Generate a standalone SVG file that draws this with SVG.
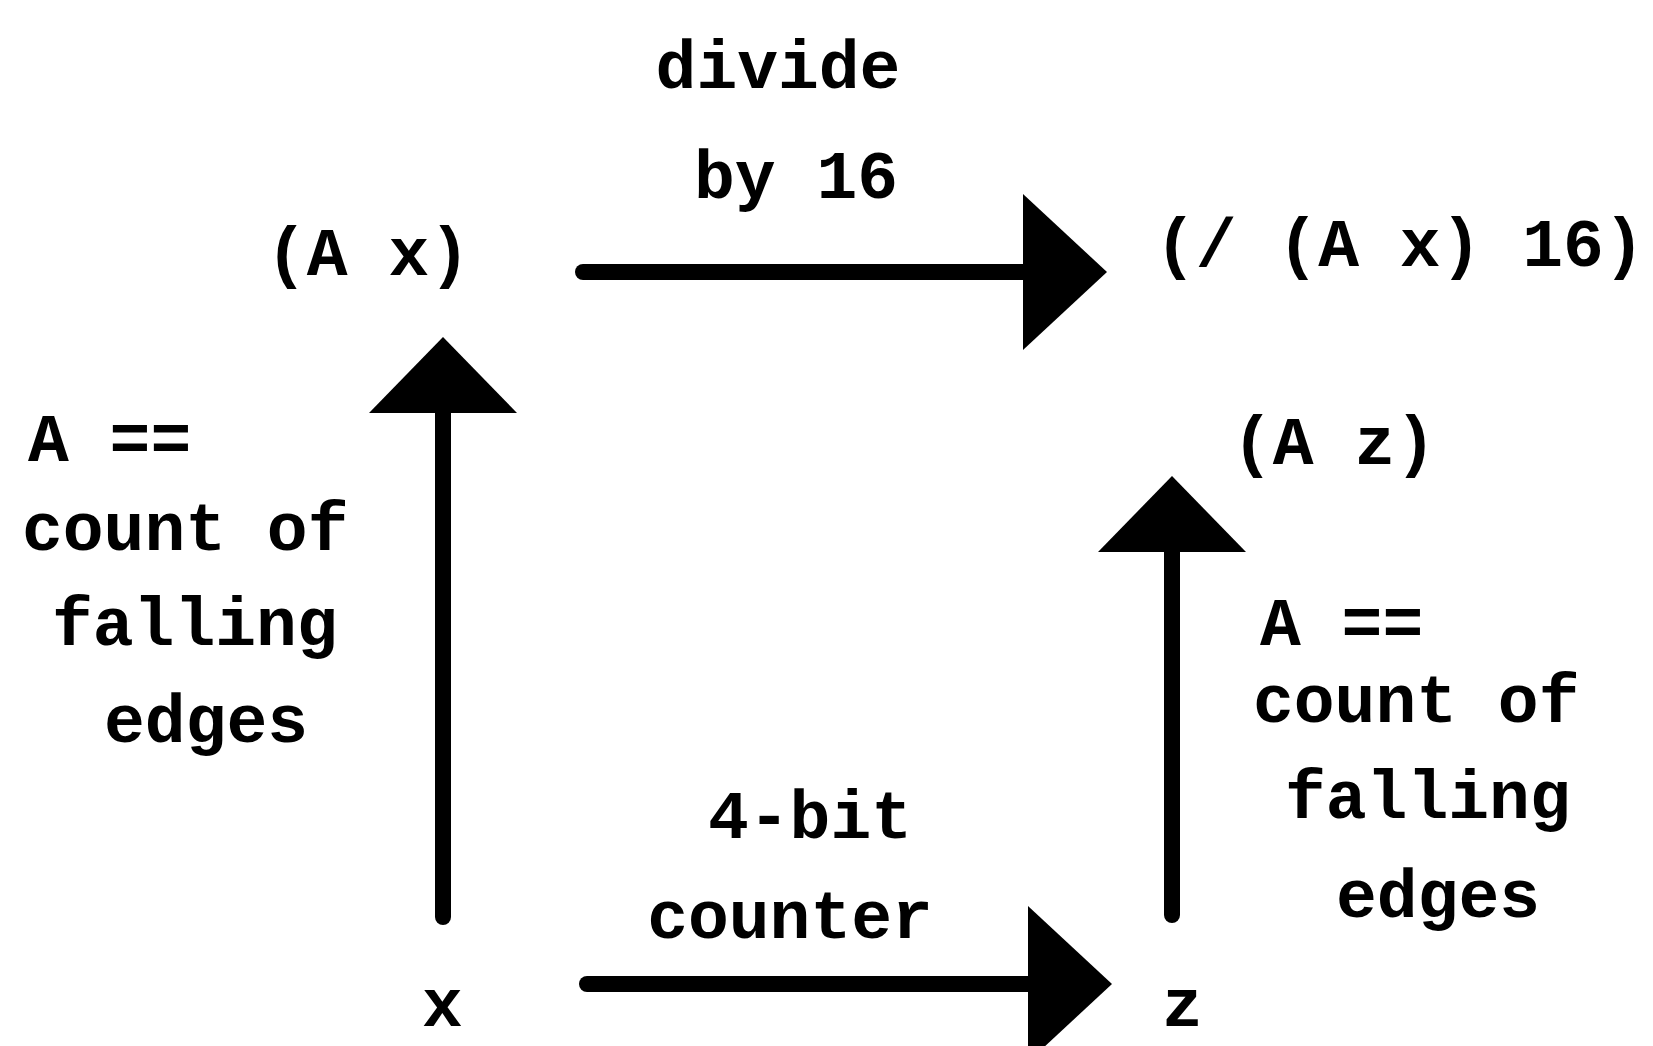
<svg xmlns="http://www.w3.org/2000/svg" width="1653" height="1046" viewBox="0 0 1653 1046">
<style>
  text { font-family: "Liberation Mono", "DejaVu Sans Mono", monospace; font-weight: bold; font-size: 68px; fill: #000; }
  .edge { stroke: #000; stroke-width: 16; stroke-linecap: round; fill: none; }
</style>
<defs>
  <marker id="headH" markerUnits="userSpaceOnUse" markerWidth="86" markerHeight="158" refX="0" refY="78" orient="auto" overflow="visible">
    <path d="M0,0 L84,78 L0,156 Z" fill="#000"/>
  </marker>
  <marker id="headV" markerUnits="userSpaceOnUse" markerWidth="78" markerHeight="148" refX="0" refY="74" orient="auto" overflow="visible">
    <path d="M0,0 L76,74 L0,148 Z" fill="#000"/>
  </marker>
</defs>
<rect width="1653" height="1046" fill="#fff"/>
<g id="connectors">
  <line class="edge" x1="583" y1="272" x2="1023" y2="272" marker-end="url(#headH)"/>
  <line class="edge" x1="443" y1="917" x2="443" y2="413" marker-end="url(#headV)"/>
  <line class="edge" x1="1172" y1="915" x2="1172" y2="552" marker-end="url(#headV)"/>
  <line class="edge" x1="587" y1="984" x2="1028" y2="984" marker-end="url(#headH)"/>
</g>
<g id="node-Ax"><text x="266" y="275">(A x)</text></g>
<g id="node-divAx"><text x="1155" y="266">(/ (A x) 16)</text></g>
<g id="node-Az"><text x="1232" y="464">(A z)</text></g>
<g id="node-x"><text x="422" y="1026">x</text></g>
<g id="node-z"><text x="1162" y="1026">z</text></g>
<g id="label-divide">
  <text x="778" y="88" text-anchor="middle">divide</text>
  <text x="796" y="198" text-anchor="middle">by 16</text>
</g>
<g id="label-counter">
  <text x="810" y="838" text-anchor="middle">4-bit</text>
  <text x="790" y="938" text-anchor="middle">counter</text>
</g>
<g id="label-left">
  <text x="28" y="461">A ==</text>
  <text x="22" y="550">count of</text>
  <text x="52" y="645">falling</text>
  <text x="104" y="742">edges</text>
</g>
<g id="label-right">
  <text x="1260" y="645">A ==</text>
  <text x="1253" y="722">count of</text>
  <text x="1285" y="818">falling</text>
  <text x="1336" y="917">edges</text>
</g>
</svg>
